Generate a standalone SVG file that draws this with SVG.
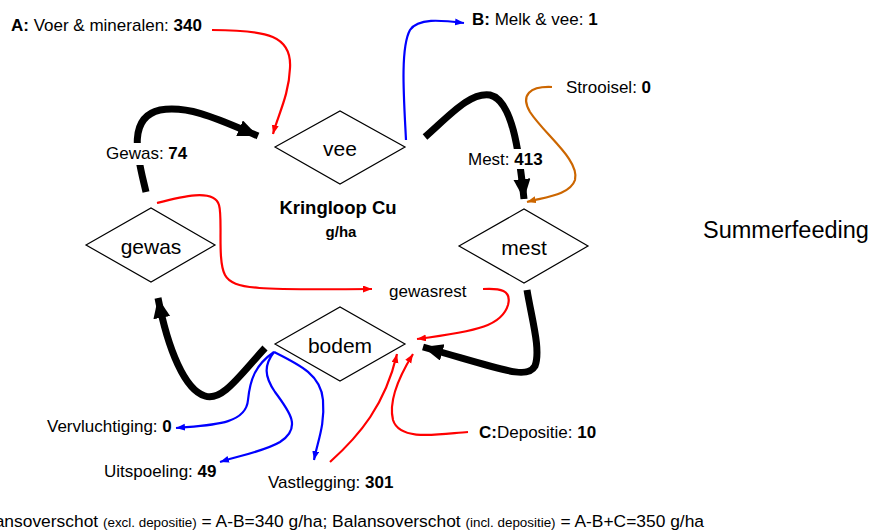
<svg xmlns="http://www.w3.org/2000/svg" width="875" height="532" viewBox="0 0 875 532">
  <style>
    text { font-family: "Liberation Sans", Arial, sans-serif; fill: #000; }
    .lbl { font-size: 17px; }
    .node-label { font-size: 21px; text-anchor: middle; }
    .b { font-weight: bold; }
    .diamond { fill: #fff; stroke: #000; stroke-width: 1.2; }
    .thick { fill: none; stroke: #000; stroke-width: 7; }
    .red { fill: none; stroke: #ff0000; stroke-width: 2.2; }
    .blue { fill: none; stroke: #0000ff; stroke-width: 2.2; }
    .orange { fill: none; stroke: #cc6600; stroke-width: 2.2; }
  </style>
  <defs>
    <marker id="ah-black" markerUnits="userSpaceOnUse" markerWidth="22" markerHeight="18" refX="20" refY="8.5" orient="auto">
      <path d="M0,0 L20,8.5 L0,17 z" fill="#000"/>
    </marker>
    <marker id="ah-red" markerUnits="userSpaceOnUse" markerWidth="10" markerHeight="8" refX="9" refY="3.5" orient="auto">
      <path d="M0,0 L9,3.5 L0,7 z" fill="#ff0000"/>
    </marker>
    <marker id="ah-blue" markerUnits="userSpaceOnUse" markerWidth="10" markerHeight="8" refX="9" refY="3.5" orient="auto">
      <path d="M0,0 L9,3.5 L0,7 z" fill="#0000ff"/>
    </marker>
    <marker id="ah-orange" markerUnits="userSpaceOnUse" markerWidth="10" markerHeight="8" refX="9" refY="3.5" orient="auto">
      <path d="M0,0 L9,3.5 L0,7 z" fill="#cc6600"/>
    </marker>
  </defs>

  <rect width="875" height="532" fill="#fff"/>

  <!-- flows -->
  <g id="connectors">
    <!-- crop to livestock -->
    <path class="thick" d="M146,192 C140,165 124,118 160,110 C190,105 220,120 258,136" marker-end="url(#ah-black)"/>
    <!-- livestock to manure -->
    <path class="thick" d="M425,137 C450,115 470,92 490,95 C512,100 519,150 524,199" marker-end="url(#ah-black)"/>
    <!-- manure to soil -->
    <path class="thick" d="M527,290 C532,320 541,350 535,366 C527,380 505,370 423,347" marker-end="url(#ah-black)"/>
    <!-- soil to crop -->
    <path class="thick" d="M265,348 C240,375 222,402 205,396 C185,390 168,350 158,298" marker-end="url(#ah-black)"/>

    <!-- A: feed & minerals -->
    <path class="red" d="M212,30 C268,30 292,36 290,68 C289,95 278,115 273,134" marker-end="url(#ah-red)"/>
    <!-- B: milk & animals -->
    <path class="blue" d="M406,140 C404,100 400,48 410,30 C418,18 440,20 464,23" marker-end="url(#ah-blue)"/>
    <!-- bedding -->
    <path class="orange" d="M552,87 C530,86 520,95 530,112 C545,135 580,160 575,180 C570,195 545,197 527,202" marker-end="url(#ah-orange)"/>
    <!-- crop residue -->
    <path class="red" d="M157,203 C180,197 214,188 219,205 C223,218 217,260 225,275 C233,290 260,290 372,289" marker-end="url(#ah-red)"/>
    <path class="red" d="M483,289 C500,288 512,290 508,305 C502,325 480,331 417,339" marker-end="url(#ah-red)"/>
    <!-- fixation -->
    <path class="red" d="M330,462 C360,435 385,405 397,354" marker-end="url(#ah-red)"/>
    <!-- C: deposition -->
    <path class="red" d="M468,432 C440,434 400,442 393,420 C388,400 400,375 413,354" marker-end="url(#ah-red)"/>
    <!-- soil losses -->
    <path class="blue" d="M274,352 C255,365 250,380 248,400 C246,425 210,425 176,428" marker-end="url(#ah-blue)"/>
    <path class="blue" d="M274,352 C264,365 264,376 275,392 C290,412 302,428 280,442 C265,451 242,455 220,462" marker-end="url(#ah-blue)"/>
    <path class="blue" d="M274,352 C300,365 321,375 323,400 C325,425 318,440 314,460" marker-end="url(#ah-blue)"/>
  </g>

  <!-- nodes -->
  <g id="node-vee">
    <polygon class="diamond" points="275,147 340,111 405,147 340,184"/>
    <text class="node-label" x="340" y="156">vee</text>
  </g>
  <g id="node-gewas">
    <polygon class="diamond" points="86,245 151,208 215,245 151,282"/>
    <text class="node-label" x="151" y="254">gewas</text>
  </g>
  <g id="node-mest">
    <polygon class="diamond" points="459,246 524,209 588,246 524,283"/>
    <text class="node-label" x="524" y="255">mest</text>
  </g>
  <g id="node-bodem">
    <polygon class="diamond" points="275,344 340,307 405,344 340,381"/>
    <text class="node-label" x="340" y="353">bodem</text>
  </g>

  <!-- flow labels -->
  <g id="labels">
    <text class="lbl" x="11" y="31"><tspan class="b">A:</tspan> Voer &amp; mineralen: <tspan class="b">340</tspan></text>
    <text class="lbl" x="472" y="25"><tspan class="b">B:</tspan> Melk &amp; vee: <tspan class="b">1</tspan></text>
    <text class="lbl" x="566" y="93">Strooisel: <tspan class="b">0</tspan></text>
    <rect x="104" y="143" width="86" height="22" fill="#fff"/>
    <text class="lbl" x="106" y="159">Gewas: <tspan class="b">74</tspan></text>
    <rect x="466" y="149" width="80" height="20" fill="#fff"/>
    <text class="lbl" x="468" y="165">Mest: <tspan class="b">413</tspan></text>
    <text x="338" y="214" font-size="18.5" font-weight="bold" text-anchor="middle">Kringloop Cu</text>
    <text x="341" y="237" font-size="15" font-weight="bold" text-anchor="middle">g/ha</text>
    <text x="703" y="238" font-size="23.5">Summerfeeding</text>
    <text class="lbl" x="389" y="297">gewasrest</text>
    <text class="lbl" x="47" y="432">Vervluchtiging: <tspan class="b">0</tspan></text>
    <text class="lbl" x="104" y="477">Uitspoeling: <tspan class="b">49</tspan></text>
    <text class="lbl" x="268" y="488">Vastlegging: <tspan class="b">301</tspan></text>
    <text class="lbl" x="479" y="438"><tspan class="b">C:</tspan>Depositie: <tspan class="b">10</tspan></text>
    <text x="704" y="527" font-size="17.4" text-anchor="end">Balansoverschot <tspan font-size="13.4">(excl. depositie)</tspan> = A-B=340 g/ha; Balansoverschot <tspan font-size="13.4">(incl. depositie)</tspan> = A-B+C=350 g/ha</text>
  </g>
</svg>
